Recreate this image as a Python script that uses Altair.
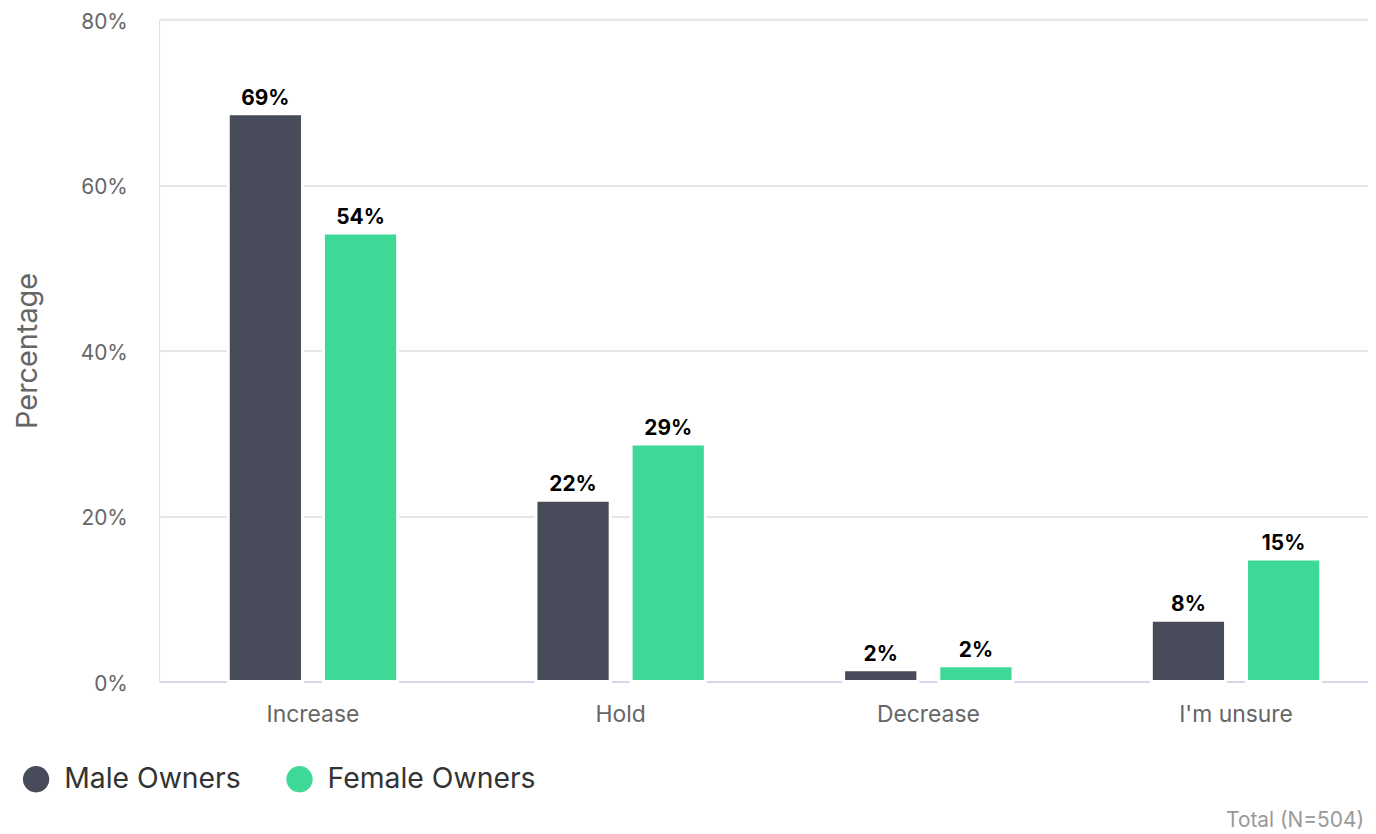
import altair as alt
import pandas as pd

categories = ["Increase", "Hold", "Decrease", "I'm unsure"]
groups = ["Male Owners", "Female Owners"]
male_values = [68.6, 21.9, 1.4, 7.4]
female_values = [54.2, 28.7, 1.9, 14.8]
male_labels = ["69%", "22%", "2%", "8%"]
female_labels = ["54%", "29%", "2%", "15%"]
colors = ["#474b5a", "#3fd997"]
y_ticks = [0, 20, 40, 60, 80]
footnote = "Total (N=504)"

rows = []
for i, c in enumerate(categories):
    rows.append({"cat": c, "group": groups[0], "value": male_values[i], "label": male_labels[i]})
    rows.append({"cat": c, "group": groups[1], "value": female_values[i], "label": female_labels[i]})
df = pd.DataFrame(rows)

FONT = "Inter"

x_enc = alt.X("cat:N", sort=categories,
              scale=alt.Scale(range=[0, 1238], paddingInner=0.4495, paddingOuter=0.2248),
              axis=alt.Axis(title=None, labelAngle=0, labelFontSize=23, labelColor="#666666",
                            labelFont=FONT, labelPadding=22, ticks=False,
                            domainColor="#d3d7ec", domainWidth=2, grid=False))
xoff = alt.XOffset("group:N", sort=groups, scale=alt.Scale(paddingInner=0.22, paddingOuter=0))
y_enc = alt.Y("value:Q", scale=alt.Scale(domain=[0, 80], nice=False),
              axis=alt.Axis(values=y_ticks, labelExpr="datum.value + '%'", title="Percentage",
                            titleFontSize=29, titleFontWeight="normal", titleColor="#666666",
                            titleFont=FONT, titleX=-132, titleY=333, titleAngle=270,
                            titleAlign="center", titleBaseline="middle",
                            labelFontSize=21, labelColor="#666666", labelFont=FONT,
                            labelPadding=32, labelOffset=3, ticks=False, domain=False,
                            gridColor="#e6e6e6", gridWidth=2))

bars = alt.Chart(df).mark_bar(stroke="white", strokeWidth=3).encode(
    x=x_enc, xOffset=xoff, y=y_enc,
    color=alt.Color("group:N", sort=groups, scale=alt.Scale(domain=groups, range=colors),
                    legend=alt.Legend(title=None, orient="none", legendX=-138, legendY=750,
                                      direction="horizontal", symbolType="circle",
                                      symbolSize=700, symbolStrokeWidth=0,
                                      labelFontSize=28.5, labelColor="#333333", labelFont=FONT,
                                      labelLimit=0, labelOffset=14, columnPadding=44))
)

text = alt.Chart(df).mark_text(baseline="bottom", dy=-5, fontSize=21, fontWeight="bold",
                               font=FONT, color="#000000").encode(
    x=alt.X("cat:N", sort=categories), xOffset=alt.XOffset("group:N", sort=groups),
    y="value:Q", text="label:N"
)

note = alt.Chart(pd.DataFrame({"t": [footnote]})).mark_text(
    align="right", baseline="middle", fontSize=21, font=FONT, color="#999999"
).encode(x=alt.value(1212), y=alt.value(806), text="t:N")

chart = alt.layer(bars, text, note).properties(
    width=1216, height=666,
    autosize=alt.AutoSizeParams(type="none"),
    padding={"left": 152, "top": 9, "right": 0, "bottom": 151},
).configure_view(stroke=None).configure(font=FONT)

chart.save("out.html", embed_options={"renderer": "svg", "actions": False})
